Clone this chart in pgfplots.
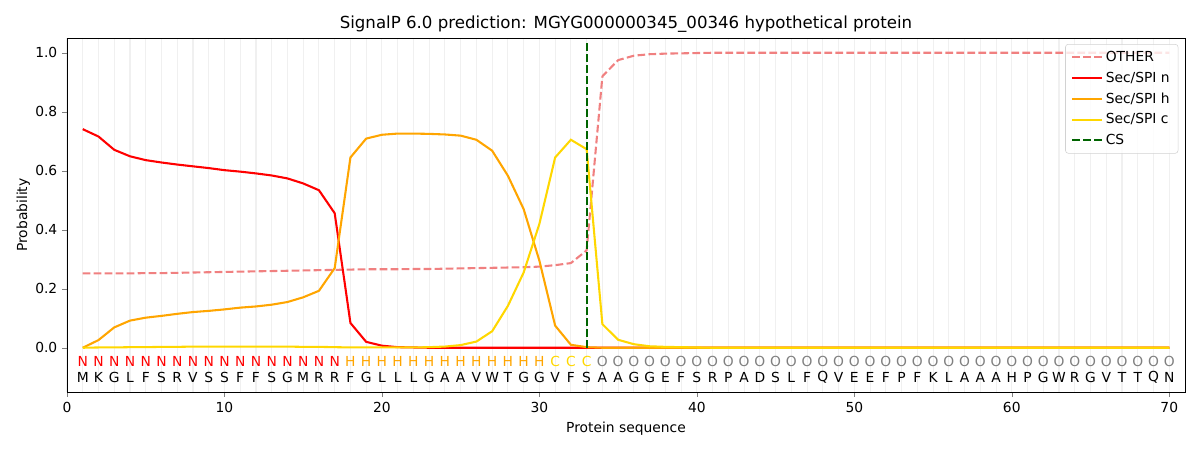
\documentclass[border=0pt]{standalone}
\usepackage{pgfplots}
\pgfplotsset{compat=1.18}
\usepackage{fontspec}
\setmainfont{DejaVu Sans}
\definecolor{lcoral}{RGB}{240,128,128}
\definecolor{morange}{RGB}{255,165,0}
\definecolor{mgold}{RGB}{255,215,0}
\definecolor{dgreen}{RGB}{0,100,0}
\definecolor{gridc}{RGB}{240,240,240}
\definecolor{ogray}{RGB}{128,128,128}
\begin{document}
\begin{tikzpicture}
\begin{axis}[name=ax,
  scale only axis, width=11.18in, height=3.54in,
  xmin=0, xmax=71, ymin=-0.15, ymax=1.05,
  xtick={0,10,...,70}, ytick={0,0.2,...,1.0},
  minor xtick={1,...,70}, minor tick length=0pt,
  xmajorgrids, xminorgrids,
  major grid style={gridc, line width=0.8pt},
  minor grid style={gridc, line width=0.8pt},
  tick align=outside, major tick length=3.5pt,
  xtick pos=bottom, ytick pos=left,
  yticklabel style={/pgf/number format/fixed, /pgf/number format/fixed zerofill, /pgf/number format/precision=1},
  /pgf/number format/assume math mode=true,
  tick label style={font=\fontsize{10}{12}\selectfont},
  label style={font=\fontsize{10}{12}\selectfont},
  xlabel={Protein sequence}, ylabel={Probability},
  ylabel style={yshift=-3pt},
  title={SignalP 6.0 prediction: MGYG000000345\_00346 hypothetical protein},
  title style={font=\fontsize{12}{14}\selectfont, yshift=-5.5pt},
  legend style={at={(0.994,0.983)}, anchor=north east, draw=gray!35, rounded corners=2pt, fill=white, fill opacity=0.8, text opacity=1, font=\fontsize{10}{12}\selectfont, inner xsep=4pt, inner ysep=3pt, row sep=2pt},
  legend cell align=left,
  legend image code/.code={\draw[#1, line width=1.5pt] (0pt,0pt) -- (21.6pt,0pt);},
  every axis plot/.append style={line width=1.5pt},
]
\addplot[lcoral, dash pattern=on 5.55pt off 2.4pt] coordinates {
(1,0.252)(2,0.252)(3,0.252)(4,0.252)(5,0.253)(6,0.253)(7,0.254)(8,0.255)(9,0.256)(10,0.257)
(11,0.258)(12,0.259)(13,0.260)(14,0.261)(15,0.262)(16,0.263)(17,0.264)(18,0.265)(19,0.266)(20,0.266)
(21,0.266)(22,0.267)(23,0.267)(24,0.268)(25,0.269)(26,0.270)(27,0.271)(28,0.272)(29,0.273)(30,0.275)
(31,0.280)(32,0.287)(33,0.330)(34,0.920)(35,0.975)(36,0.990)(37,0.995)(38,0.997)(39,0.998)(40,0.999)
(41,1.0)(42,1.0)(43,1.0)(44,1.0)(45,1.0)(46,1.0)(47,1.0)(48,1.0)(49,1.0)(50,1.0)
(51,1.0)(52,1.0)(53,1.0)(54,1.0)(55,1.0)(56,1.0)(57,1.0)(58,1.0)(59,1.0)(60,1.0)
(61,1.0)(62,1.0)(63,1.0)(64,1.0)(65,1.0)(66,1.0)(67,1.0)(68,1.0)(69,1.0)(70,1.0)};
\addlegendentry{OTHER}
\addplot[red] coordinates {
(1,0.741)(2,0.716)(3,0.671)(4,0.649)(5,0.636)(6,0.628)(7,0.621)(8,0.615)(9,0.609)(10,0.602)
(11,0.597)(12,0.591)(13,0.584)(14,0.574)(15,0.557)(16,0.534)(17,0.456)(18,0.084)(19,0.020)(20,0.007)
(21,0.002)(22,0.001)(23,0)(24,0)(25,0)(26,0)(27,0)(28,0)(29,0)(30,0)
(31,0)(32,0)(33,0)(34,0)(35,0)(36,0)(37,0)(38,0)(39,0)(40,0)
(41,0)(42,0)(43,0)(44,0)(45,0)(46,0)(47,0)(48,0)(49,0)(50,0)
(51,0)(52,0)(53,0)(54,0)(55,0)(56,0)(57,0)(58,0)(59,0)(60,0)
(61,0)(62,0)(63,0)(64,0)(65,0)(66,0)(67,0)(68,0)(69,0)(70,0)};
\addlegendentry{Sec/SPI n}
\addplot[morange] coordinates {
(1,0.0)(2,0.026)(3,0.069)(4,0.092)(5,0.102)(6,0.108)(7,0.115)(8,0.121)(9,0.125)(10,0.130)
(11,0.136)(12,0.140)(13,0.146)(14,0.155)(15,0.171)(16,0.193)(17,0.270)(18,0.645)(19,0.709)(20,0.722)
(21,0.726)(22,0.726)(23,0.725)(24,0.723)(25,0.719)(26,0.705)(27,0.668)(28,0.583)(29,0.470)(30,0.295)
(31,0.075)(32,0.010)(33,0.002)(34,0)(35,0)(36,0)(37,0)(38,0)(39,0)(40,0)
(41,0)(42,0)(43,0)(44,0)(45,0)(46,0)(47,0)(48,0)(49,0)(50,0)
(51,0)(52,0)(53,0)(54,0)(55,0)(56,0)(57,0)(58,0)(59,0)(60,0)
(61,0)(62,0)(63,0)(64,0)(65,0)(66,0)(67,0)(68,0)(69,0)(70,0)};
\addlegendentry{Sec/SPI h}
\addplot[mgold] coordinates {
(1,0.0)(2,0.001)(3,0.001)(4,0.002)(5,0.002)(6,0.003)(7,0.003)(8,0.004)(9,0.004)(10,0.004)
(11,0.004)(12,0.004)(13,0.004)(14,0.004)(15,0.003)(16,0.003)(17,0.002)(18,0.001)(19,0.001)(20,0.001)
(21,0.001)(22,0.001)(23,0.002)(24,0.004)(25,0.009)(26,0.021)(27,0.056)(28,0.142)(29,0.255)(30,0.420)
(31,0.645)(32,0.705)(33,0.673)(34,0.080)(35,0.027)(36,0.012)(37,0.005)(38,0.003)(39,0.002)(40,0.001)
(41,0)(42,0)(43,0)(44,0)(45,0)(46,0)(47,0)(48,0)(49,0)(50,0)
(51,0)(52,0)(53,0)(54,0)(55,0)(56,0)(57,0)(58,0)(59,0)(60,0)
(61,0)(62,0)(63,0)(64,0)(65,0)(66,0)(67,0)(68,0)(69,0)(70,0)};
\addlegendentry{Sec/SPI c}
\addplot[dgreen, dash pattern=on 5.55pt off 2.4pt] coordinates {(33,0) (33,1.04)};
\addlegendentry{CS}
% prediction letters
\pgfplotsset{lettrow/.style={forget plot, only marks, mark size=0pt, nodes near coords, point meta=explicit symbolic, nodes near coords align=center, every node near coord/.style={text=#1, font=\fontsize{10}{12}\selectfont, inner sep=0pt, anchor=center}}}
\addplot[lettrow=red] table[x=x, y=y, meta=l] {
x y l
1 -0.047 N
2 -0.047 N
3 -0.047 N
4 -0.047 N
5 -0.047 N
6 -0.047 N
7 -0.047 N
8 -0.047 N
9 -0.047 N
10 -0.047 N
11 -0.047 N
12 -0.047 N
13 -0.047 N
14 -0.047 N
15 -0.047 N
16 -0.047 N
17 -0.047 N
};
\addplot[lettrow=morange] table[x=x, y=y, meta=l] {
x y l
18 -0.047 H
19 -0.047 H
20 -0.047 H
21 -0.047 H
22 -0.047 H
23 -0.047 H
24 -0.047 H
25 -0.047 H
26 -0.047 H
27 -0.047 H
28 -0.047 H
29 -0.047 H
30 -0.047 H
};
\addplot[lettrow=mgold] table[x=x, y=y, meta=l] {
x y l
31 -0.047 C
32 -0.047 C
33 -0.047 C
};
\addplot[lettrow=ogray] table[x=x, y=y, meta=l] {
x y l
34 -0.047 O
35 -0.047 O
36 -0.047 O
37 -0.047 O
38 -0.047 O
39 -0.047 O
40 -0.047 O
41 -0.047 O
42 -0.047 O
43 -0.047 O
44 -0.047 O
45 -0.047 O
46 -0.047 O
47 -0.047 O
48 -0.047 O
49 -0.047 O
50 -0.047 O
51 -0.047 O
52 -0.047 O
53 -0.047 O
54 -0.047 O
55 -0.047 O
56 -0.047 O
57 -0.047 O
58 -0.047 O
59 -0.047 O
60 -0.047 O
61 -0.047 O
62 -0.047 O
63 -0.047 O
64 -0.047 O
65 -0.047 O
66 -0.047 O
67 -0.047 O
68 -0.047 O
69 -0.047 O
70 -0.047 O
};
\addplot[lettrow=black] table[x=x, y=y, meta=l] {
x y l
1 -0.10 M
2 -0.10 K
3 -0.10 G
4 -0.10 L
5 -0.10 F
6 -0.10 S
7 -0.10 R
8 -0.10 V
9 -0.10 S
10 -0.10 S
11 -0.10 F
12 -0.10 F
13 -0.10 S
14 -0.10 G
15 -0.10 M
16 -0.10 R
17 -0.10 R
18 -0.10 F
19 -0.10 G
20 -0.10 L
21 -0.10 L
22 -0.10 L
23 -0.10 G
24 -0.10 A
25 -0.10 A
26 -0.10 V
27 -0.10 W
28 -0.10 T
29 -0.10 G
30 -0.10 G
31 -0.10 V
32 -0.10 F
33 -0.10 S
34 -0.10 A
35 -0.10 A
36 -0.10 G
37 -0.10 G
38 -0.10 E
39 -0.10 F
40 -0.10 S
41 -0.10 R
42 -0.10 P
43 -0.10 A
44 -0.10 D
45 -0.10 S
46 -0.10 L
47 -0.10 F
48 -0.10 Q
49 -0.10 V
50 -0.10 E
51 -0.10 E
52 -0.10 F
53 -0.10 P
54 -0.10 F
55 -0.10 K
56 -0.10 L
57 -0.10 A
58 -0.10 A
59 -0.10 A
60 -0.10 H
61 -0.10 P
62 -0.10 G
63 -0.10 W
64 -0.10 R
65 -0.10 G
66 -0.10 V
67 -0.10 T
68 -0.10 T
69 -0.10 Q
70 -0.10 N
};
\end{axis}
\pgfresetboundingbox
\path ([shift={(-0.67in,-0.58in)}]ax.south west) rectangle ([shift={(0.15in,0.38in)}]ax.north east);
\end{tikzpicture}
\end{document}
